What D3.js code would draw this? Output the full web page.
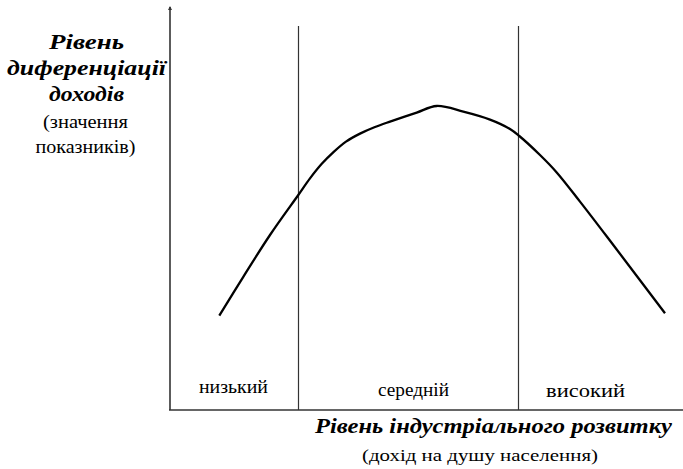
<!DOCTYPE html>
<html>
<head>
<meta charset="utf-8">
<script src="https://cdn.jsdelivr.net/npm/d3@7"></script>
<style>
  html, body { margin: 0; padding: 0; background: #fff; }
  svg { display: block; }
  text { font-family: "Times New Roman", "Liberation Serif", "DejaVu Serif", serif; }
</style>
</head>
<body>
<svg id="chart" width="683" height="469"></svg>
<script>
// Kuznets curve: inequality vs. level of industrial development (arbitrary units 0..100)
const incomeLevel = [9.86, 14.66, 20, 25.66, 28, 30.4, 32.8, 35.2, 38, 41, 44, 49.34, 53.34, 58.66, 64, 68, 69.86, 74, 77.34, 82, 88.66, 99];
const inequality  = [23.6, 33.3, 43.75, 53.75, 57.9, 61.6, 64.6, 67.1, 69.1, 70.75, 72.1, 74.35, 76, 74.6, 72.6, 70.25, 68.5, 63.75, 59.4, 52.1, 41.25, 24.2];
const zoneBounds  = [25.7, 69.7];
const zoneLabels  = ["низький", "середній", "високий"];
const yTitleLines = ["Рівень", "диференціації", "доходів"];
const ySubLines   = ["(значення", "показників)"];
const xTitle      = "Рівень індустріального розвитку";
const xSub        = "(дохід на душу населення)";

const svg = d3.select("#chart");
const x = d3.scaleLinear().domain([0, 100]).range([170, 670]);
const y = d3.scaleLinear().domain([0, 100]).range([410, 10]);

// axes
svg.append("line").attr("x1", x(0)).attr("x2", x(0)).attr("y1", y(0)).attr("y2", 7)
  .attr("stroke", "#333").attr("stroke-width", 1.6);
svg.append("line").attr("x1", x(0) - 1).attr("x2", 683).attr("y1", y(0)).attr("y2", y(0))
  .attr("stroke", "#333").attr("stroke-width", 1.6);
svg.append("path").attr("d", `M${x(0)-2},10 L${x(0)},6 L${x(0)+2},10 Z`).attr("fill", "#333");

// zone dividers
svg.selectAll("line.div").data(zoneBounds).join("line").attr("class", "div")
  .attr("x1", d => x(d)).attr("x2", d => x(d))
  .attr("y1", 26).attr("y2", y(0))
  .attr("stroke", "#333").attr("stroke-width", 1.2);

// curve
const pts = incomeLevel.map((v, i) => [v, inequality[i]]);
svg.append("path").datum(pts)
  .attr("d", d3.line().x(d => x(d[0])).y(d => y(d[1])).curve(d3.curveCatmullRom.alpha(0.5)))
  .attr("fill", "none").attr("stroke", "#000").attr("stroke-width", 2.3)
  .attr("stroke-linejoin", "round");

// zone labels
const zoneLayout = [{cx: 233.5, by: 393, w: 69}, {cx: 413.5, by: 396, w: 71}, {cx: 585.5, by: 397, w: 79}];
svg.selectAll("text.zone").data(zoneLabels).join("text").attr("class", "zone")
  .attr("x", (d, i) => zoneLayout[i].cx).attr("y", (d, i) => zoneLayout[i].by)
  .attr("text-anchor", "middle")
  .attr("textLength", (d, i) => zoneLayout[i].w).attr("lengthAdjust", "spacingAndGlyphs")
  .attr("font-size", 18).attr("fill", "#000")
  .text(d => d);

// y title
const yTitleLayout = [{by: 49, w: 75}, {by: 75, w: 159}, {by: 101, w: 75}];
svg.selectAll("text.yt").data(yTitleLines).join("text").attr("class", "yt")
  .attr("x", 86.5).attr("y", (d, i) => yTitleLayout[i].by)
  .attr("text-anchor", "middle")
  .attr("textLength", (d, i) => yTitleLayout[i].w).attr("lengthAdjust", "spacingAndGlyphs")
  .attr("font-size", 21).attr("font-weight", "bold").attr("font-style", "italic")
  .attr("fill", "#000").text(d => d);
const ySubLayout = [{by: 128, w: 85}, {by: 153, w: 100}];
svg.selectAll("text.ys").data(ySubLines).join("text").attr("class", "ys")
  .attr("x", 85.5).attr("y", (d, i) => ySubLayout[i].by)
  .attr("text-anchor", "middle")
  .attr("textLength", (d, i) => ySubLayout[i].w).attr("lengthAdjust", "spacingAndGlyphs")
  .attr("font-size", 18).attr("fill", "#000").text(d => d);

// x title
svg.append("text").attr("x", 315).attr("y", 433)
  .attr("textLength", 357).attr("lengthAdjust", "spacingAndGlyphs")
  .attr("font-size", 20).attr("font-weight", "bold").attr("font-style", "italic")
  .attr("fill", "#000").text(xTitle);
svg.append("text").attr("x", 362).attr("y", 461)
  .attr("textLength", 236).attr("lengthAdjust", "spacingAndGlyphs")
  .attr("font-size", 17).attr("fill", "#000").text(xSub);
</script>
</body>
</html>
